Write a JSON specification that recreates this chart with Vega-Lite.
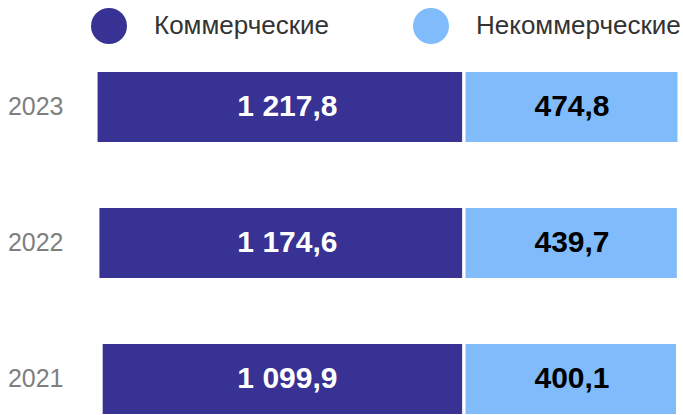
{
  "$schema": "https://vega.github.io/schema/vega-lite/v6.json",
  "autosize": "none",
  "width": 610,
  "height": 342,
  "padding": {"left": 70, "top": 72, "right": 3, "bottom": 1},
  "background": "white",
  "config": {
    "view": {"stroke": null},
    "font": "Liberation Sans",
    "locale": {"number": {"decimal": ",", "thousands": " ", "grouping": [3], "currency": ["", ""]}}
  },
  "data": {
    "values": [
      {"year": "2023", "k": 1217.8, "n": 474.8},
      {"year": "2022", "k": 1174.6, "n": 439.7},
      {"year": "2021", "k": 1099.9, "n": 400.1}
    ]
  },
  "encoding": {
    "y": {
      "field": "year",
      "type": "ordinal",
      "sort": "descending",
      "scale": {"paddingInner": 0.485, "paddingOuter": 0},
      "axis": {
        "title": null,
        "ticks": false,
        "domain": false,
        "labelFontSize": 25,
        "labelColor": "#7f7f7f",
        "labelPadding": 7,
        "labelFont": "Liberation Sans"
      }
    }
  },
  "layer": [
    {
      "encoding": {
        "x": {
          "field": "k",
          "type": "quantitative",
          "scale": {"domain": [-12150, 1850], "reverse": true, "nice": false, "zero": false},
          "axis": null
        }
      },
      "layer": [
        {
          "mark": {"type": "bar"},
          "encoding": {
            "x2": {"datum": -7150},
            "color": {
              "datum": "Коммерческие",
              "type": "nominal",
              "scale": {"domain": ["Коммерческие", "Некоммерческие"], "range": ["#373294", "#80BBFB"]},
              "legend": {
                "orient": "none",
                "direction": "horizontal",
                "legendX": 21,
                "legendY": -64,
                "title": null,
                "symbolType": "circle",
                "symbolSize": 1296,
                "symbolStrokeWidth": 0,
                "symbolOpacity": 1,
                "labelFontSize": 26,
                "labelColor": "#333333",
                "labelOffset": 27,
                "labelLimit": 0,
                "columnPadding": 83,
                "labelFont": "Liberation Sans"
              }
            }
          }
        },
        {
          "mark": {"type": "text", "fontSize": 30, "fontWeight": "bold", "color": "white"},
          "encoding": {
            "x": {"datum": -3140, "type": "quantitative"},
            "text": {"field": "k", "type": "quantitative", "format": ",.1f"}
          }
        }
      ]
    },
    {
      "encoding": {
        "x": {
          "field": "n",
          "type": "quantitative",
          "scale": {"domain": [-29900, 600], "nice": false, "zero": false},
          "axis": null
        }
      },
      "layer": [
        {
          "mark": {"type": "bar"},
          "encoding": {
            "x2": {"datum": -10125},
            "color": {"datum": "Некоммерческие", "type": "nominal"}
          }
        },
        {
          "mark": {"type": "text", "fontSize": 30, "fontWeight": "bold", "color": "black"},
          "encoding": {
            "x": {"datum": -4800, "type": "quantitative"},
            "text": {"field": "n", "type": "quantitative", "format": ",.1f"}
          }
        }
      ]
    }
  ],
  "resolve": {"scale": {"x": "independent"}}
}
